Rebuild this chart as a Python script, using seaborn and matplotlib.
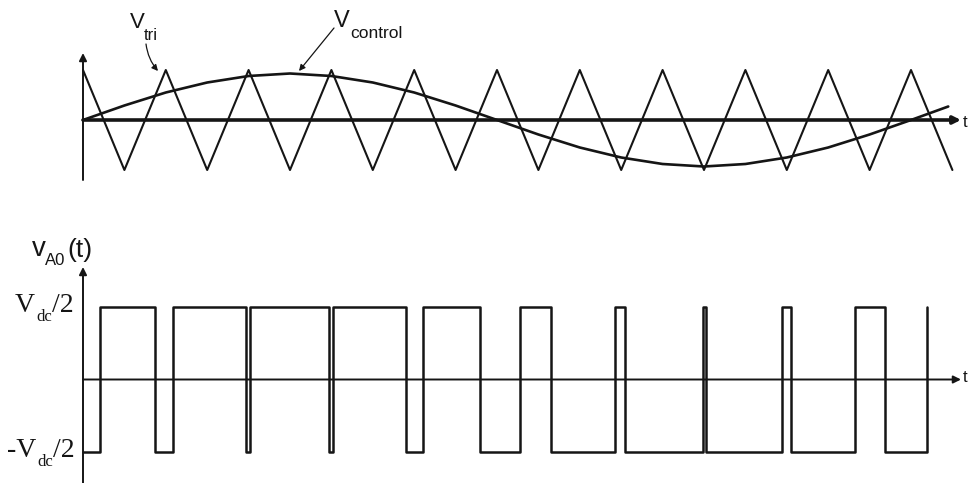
import matplotlib
matplotlib.use("Agg")
import matplotlib.pyplot as plt
import seaborn as sns
import pandas as pd

# Carrier (triangle) vertices: time in carrier periods, normalised amplitude
carrier_t = [0.0, 0.5, 1.0, 1.5, 2.0, 2.5, 3.0, 3.5, 4.0, 4.5, 5.0,
             5.5, 6.0, 6.5, 7.0, 7.5, 8.0, 8.5, 9.0, 9.5, 10.0, 10.5]
carrier_v = [1, -1, 1, -1, 1, -1, 1, -1, 1, -1, 1,
             -1, 1, -1, 1, -1, 1, -1, 1, -1, 1, -1]

# Control (modulating) signal samples
control_t = [0.0, 0.5, 1.0, 1.5, 2.0, 2.5, 3.0, 3.5, 4.0, 4.5, 5.0,
             5.5, 6.0, 6.5, 7.0, 7.5, 8.0, 8.5, 9.0, 9.5, 10.0, 10.45]
control_v = [0.0, 0.29, 0.55, 0.75, 0.88, 0.93, 0.88, 0.75, 0.55, 0.29, 0.0,
             -0.29, -0.55, -0.75, -0.88, -0.93, -0.88, -0.75, -0.55, -0.29, 0.0, 0.27]

# Switching instants of the pole voltage and the level held after each one
pwm_t = [0.0, 0.205, 0.870, 1.087, 1.969, 2.017, 2.971, 3.019, 3.901, 4.106,
         4.795, 5.278, 5.652, 6.425, 6.546, 7.488, 7.524, 8.442, 8.551,
         9.324, 9.686, 10.193]
pwm_v = [-0.5, 0.5, -0.5, 0.5, -0.5, 0.5, -0.5, 0.5, -0.5, 0.5,
         -0.5, 0.5, -0.5, 0.5, -0.5, 0.5, -0.5, 0.5, -0.5,
         0.5, -0.5, 0.5]

carrier = pd.DataFrame({"t": carrier_t, "v": carrier_v})
control = pd.DataFrame({"t": control_t, "v": control_v})
pwm = pd.DataFrame({"t": pwm_t, "v": pwm_v})

sns.set_theme(style="white")
plt.rcParams["font.family"] = ["Liberation Sans", "DejaVu Sans"]

INK = "#151515"
W, H = 971, 483

fig = plt.figure(figsize=(W / 100, H / 100), dpi=100)
fig.patch.set_facecolor("white")

# time axis shared by both panels
t_min, t_max = -83 / 82.8, (W - 83) / 82.8
t_end = (961 - 83) / 82.8

ax_top = fig.add_axes([0, 1 - 200 / H, 1, 200 / H])
ax_bot = fig.add_axes([0, 0, 1, 283 / H])
for ax in (ax_top, ax_bot):
    ax.set_xlim(t_min, t_max)
    ax.axis("off")
ax_top.set_ylim(-1.6, 2.4)
ax_bot.set_ylim((379.5 - H) / 145, (379.5 - 200) / 145)

# --- upper panel: carrier and control ---
sns.lineplot(data=carrier, x="t", y="v", ax=ax_top, color=INK, lw=1.5,
             estimator=None, sort=False)
sns.lineplot(data=control, x="t", y="v", ax=ax_top, color=INK, lw=1.9,
             estimator=None, sort=False)

arrow_axis = dict(arrowstyle="-|>", color=INK, shrinkA=0, shrinkB=0,
                  mutation_scale=11)
ax_top.annotate("", xy=(t_end, 0), xytext=(0, 0),
                arrowprops=dict(arrow_axis, lw=2.6))
ax_top.annotate("", xy=(0, 1.34), xytext=(0, -1.2),
                arrowprops=dict(arrow_axis, lw=1.4))

# --- lower panel: pole voltage ---
sns.lineplot(data=pwm, x="t", y="v", ax=ax_bot, color=INK, lw=1.8,
             estimator=None, sort=False, drawstyle="steps-post")
ax_bot.annotate("", xy=(t_end, 0), xytext=(0, 0),
                arrowprops=dict(arrow_axis, lw=1.4))
ax_bot.annotate("", xy=(0, 0.776), xytext=(0, -0.72),
                arrowprops=dict(arrow_axis, lw=1.4))


def fp(x, y):
    """Figure-pixel position measured from the top-left corner."""
    return (x, H - y)


def label(x, y, s, size, family="Liberation Sans", ha="left"):
    fig.text(x / W, 1 - y / H, s, fontsize=size, ha=ha, va="baseline",
             color=INK, family=family)


# time-axis letters at the right edge
label(963, 127, "t", 12)
label(963, 382, "t", 12)

# carrier label and pointer
label(137, 28, "V", 16, ha="center")
label(144, 40, "tri", 12)
ax_top.annotate("", xy=fp(158, 71), xycoords="figure pixels",
                xytext=fp(146, 44), textcoords="figure pixels",
                arrowprops=dict(arrowstyle="-|>", color=INK, lw=0.9,
                                mutation_scale=9, shrinkA=0, shrinkB=0,
                                connectionstyle="arc3,rad=0.15"))

# control label and pointer
label(342, 27, "V", 17, ha="center")
label(350, 38, "control", 12.5)
ax_top.annotate("", xy=fp(299, 71), xycoords="figure pixels",
                xytext=fp(334, 28), textcoords="figure pixels",
                arrowprops=dict(arrowstyle="-|>", color=INK, lw=0.9,
                                mutation_scale=9, shrinkA=0, shrinkB=0))

# lower panel labels
label(39, 256, "v", 20, ha="center")
label(45, 265, "A0", 12)
label(67, 257, "(t)", 19)

SERIF = "Liberation Serif"
label(15, 312, "V", 20, family=SERIF)
label(36, 321, "dc", 12, family=SERIF)
label(52, 312, "/2", 20, family=SERIF)

label(7, 457, "-V", 20, family=SERIF)
label(37, 466, "dc", 12, family=SERIF)
label(53, 457, "/2", 20, family=SERIF)

fig.savefig("out.png", dpi=100, facecolor="white")
